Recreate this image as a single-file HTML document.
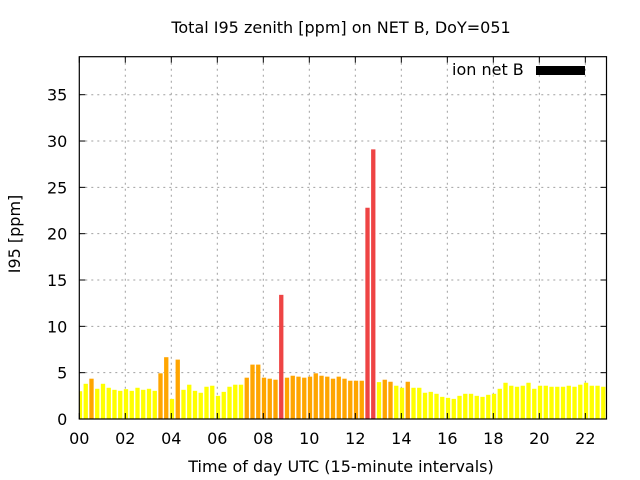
<!DOCTYPE html>
<html><head><meta charset="utf-8"><style>
html,body{margin:0;padding:0;background:#fff;}
svg{display:block;font-family:"DejaVu Sans","Liberation Sans",sans-serif;}
</style></head><body>
<svg id="chart" width="640" height="480" viewBox="0 0 640 480">
<text x="341" y="33" font-size="16" text-anchor="middle">Total I95 zenith [ppm] on NET B, DoY=051</text>
<text x="0" y="0" font-size="16" text-anchor="middle" transform="translate(20,234) rotate(-90)">I95 [ppm]</text>
<text x="341" y="472" font-size="16" text-anchor="middle">Time of day UTC (15-minute intervals)</text>
<g id="grid"></g>
<g id="bars"></g>
<g id="ticks"></g>
<rect x="79.3" y="56.7" width="527.2" height="362.3" fill="none" stroke="#000" stroke-width="1.2"/>
<g>
<text x="452" y="75" font-size="16">ion net B</text>
<rect x="536" y="66" width="49" height="9" fill="#000"/>
</g>
</svg>
<script>
const values = [3.0,3.8,4.35,3.26,3.8,3.37,3.15,3.04,3.22,3.04,3.37,3.15,3.26,3.04,4.93,6.67,2.17,6.41,3.15,3.7,3.04,2.83,3.48,3.59,2.5,2.93,3.48,3.7,3.7,4.46,5.87,5.87,4.46,4.35,4.24,13.4,4.46,4.67,4.57,4.46,4.57,4.93,4.67,4.57,4.35,4.57,4.35,4.13,4.13,4.13,22.8,29.1,3.98,4.24,4.02,3.59,3.37,4.02,3.37,3.37,2.83,2.93,2.72,2.39,2.28,2.17,2.5,2.72,2.72,2.5,2.39,2.61,2.72,3.26,3.91,3.59,3.48,3.59,3.91,3.26,3.59,3.59,3.48,3.48,3.48,3.59,3.48,3.7,3.91,3.59,3.59,3.48];
const xTicks = ["00","02","04","06","08","10","12","14","16","18","20","22"];
const yTicks = [0,5,10,15,20,25,30,35];
const X0=79.3, X1=606.5, Y0=419, Y1=56.7;
const XMIN=0, XMAX=22.92, YMIN=0, YMAX=39.1;
const NS="http://www.w3.org/2000/svg";
function xs(h){return X0+(h-XMIN)/(XMAX-XMIN)*(X1-X0);}
function ys(v){return Y0-(v-YMIN)/(YMAX-YMIN)*(Y0-Y1);}
function mk(tag,attrs,parent){const e=document.createElementNS(NS,tag);for(const k in attrs)e.setAttribute(k,attrs[k]);parent.appendChild(e);return e;}
const grid=document.getElementById('grid'),bars=document.getElementById('bars'),ticks=document.getElementById('ticks');
yTicks.forEach(v=>{
  const y=ys(v);
  if(v>0){const g=mk('line',{x1:X0,x2:X1,y1:y,y2:y,stroke:'#a0a0a0','stroke-dasharray':'2,4','stroke-width':1},grid);
  
  }
  mk('line',{x1:X0,x2:X0+6,y1:y,y2:y,stroke:'#000'},ticks);
  mk('line',{x1:X1-6,x2:X1,y1:y,y2:y,stroke:'#000'},ticks);
  const t=mk('text',{x:X0-12,y:y+6,'font-size':16,'text-anchor':'end'},ticks);
  t.textContent=v;
  
  
});
xTicks.forEach((lab,i)=>{
  const x=xs(i*2);
  if(i>0){const g=mk('line',{x1:x,x2:x,y1:Y1,y2:Y0,stroke:'#a0a0a0','stroke-dasharray':'2,4','stroke-width':1},grid);
  
  }
  mk('line',{x1:x,x2:x,y1:Y0,y2:Y0-6,stroke:'#000'},ticks);
  mk('line',{x1:x,x2:x,y1:Y1,y2:Y1+6,stroke:'#000'},ticks);
  const t=mk('text',{x:x,y:444,'font-size':16,'text-anchor':'middle'},ticks);
  t.textContent=lab;
  
  
});
values.forEach((v,i)=>{
  const h=i*0.25+0.03, w=0.75*0.25*(X1-X0)/(XMAX-XMIN);
  let xl=xs(h)-w/2, xr=xl+w;
  if(xl<X0)xl=X0; if(xr>X1)xr=X1;
  const col=v>=10?'#ee4444':(v>=4?'#ffa500':'#ffff00');
  const r=mk('rect',{x:xl,y:ys(v),width:xr-xl,height:Y0-ys(v),fill:col},bars);
  
  
});
</script>
</body></html>
